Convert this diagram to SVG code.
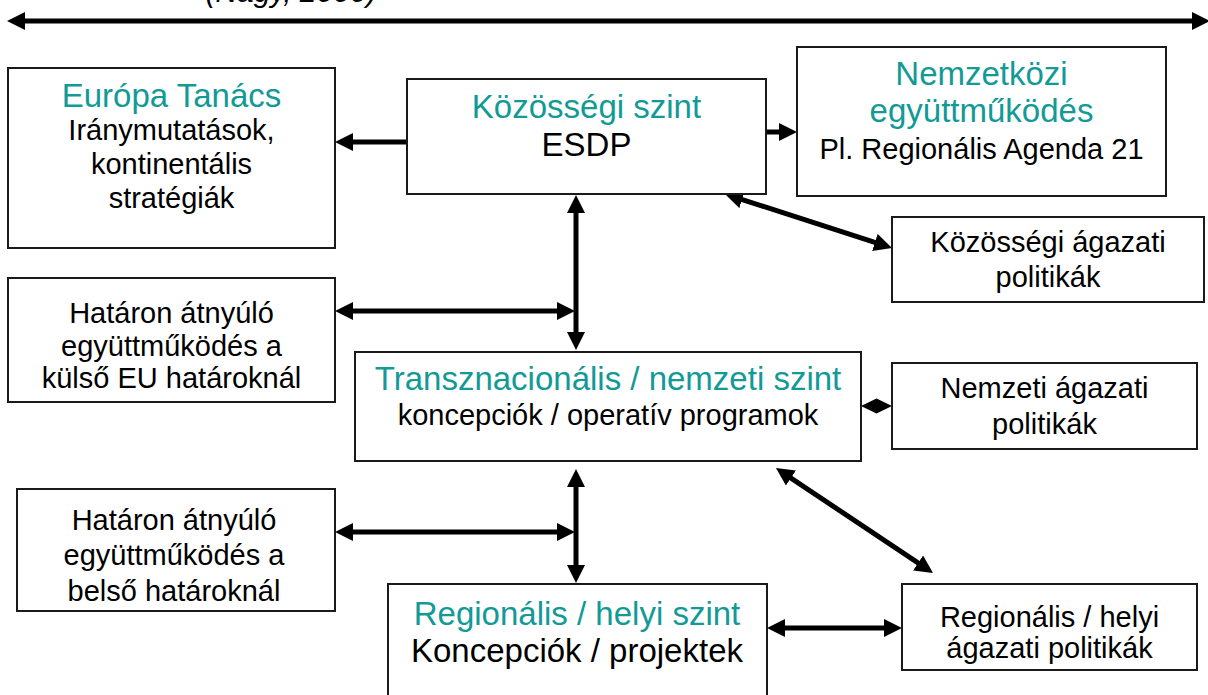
<svg xmlns="http://www.w3.org/2000/svg" width="1208" height="695" viewBox="0 0 1208 695">
  <defs>
    <style>
      .box { fill: #ffffff; stroke: #1a1a1a; stroke-width: 2; }
      .t { font-family: "Liberation Sans", Arial, sans-serif; text-anchor: middle; }
      .teal { fill: #119a96; font-size: 33px; }
      .blk { fill: #000000; font-size: 29px; }
      .big { fill: #000000; font-size: 33px; }
      .link { fill: none; stroke: #000000; stroke-width: 5; }
    </style>
    <marker id="ah" viewBox="0 0 18 18" markerWidth="18" markerHeight="18" markerUnits="userSpaceOnUse" refX="4" refY="9" orient="auto-start-reverse">
      <path d="M0,0 L18,9 L0,18 z" fill="#000000"/>
    </marker>
  </defs>

  <!-- timeline arrow across the top -->
  <g id="timeline">
    <text class="t" x="291" y="2" font-size="30" font-style="italic" fill="#000000">(Nagy, 2000)</text>
    <path class="link" d="M21,21 L1196,21" stroke-width="5.5" marker-start="url(#ah)" marker-end="url(#ah)"/>
  </g>

  <!-- connectors -->
  <g id="connectors">
    <path class="link" d="M407,142 L349,142" marker-end="url(#ah)"/>
    <path class="link" d="M766,132 L783,132" marker-end="url(#ah)"/>
    <path class="link" d="M738.3,198.3 L878.7,243.7" marker-start="url(#ah)" marker-end="url(#ah)"/>
    <path class="link" d="M576,209 L576,336" marker-start="url(#ah)" marker-end="url(#ah)"/>
    <path class="link" d="M349,311 L561,311" marker-start="url(#ah)" marker-end="url(#ah)"/>
    <path class="link" d="M576,483 L576,569" marker-start="url(#ah)" marker-end="url(#ah)"/>
    <path class="link" d="M349,532 L561,532" marker-start="url(#ah)" marker-end="url(#ah)"/>
    <path class="link" d="M787.6,475.8 L921.4,565.2" marker-start="url(#ah)" marker-end="url(#ah)"/>
    <path class="link" d="M781,628 L888,628" marker-start="url(#ah)" marker-end="url(#ah)"/>
    <path d="M861,406 L876.5,398.5 L892,406 L876.5,413.5 z" fill="#000000"/>
  </g>

  <g id="europa-tanacs">
    <rect class="box" x="8" y="68" width="327" height="180"/>
    <text class="t teal" x="171.5" y="107">Európa Tanács</text>
    <text class="t blk" x="171.5" y="140">Iránymutatások,</text>
    <text class="t blk" x="171.5" y="174">kontinentális</text>
    <text class="t blk" x="171.5" y="208">stratégiák</text>
  </g>

  <g id="kozossegi-szint">
    <rect class="box" x="407" y="79" width="359" height="115"/>
    <text class="t teal" x="586.5" y="118">Közösségi szint</text>
    <text class="t big" x="586.5" y="156">ESDP</text>
  </g>

  <g id="nemzetkozi">
    <rect class="box" x="797" y="47" width="369" height="149"/>
    <text class="t teal" x="981.5" y="85">Nemzetközi</text>
    <text class="t teal" x="981.5" y="122">együttműködés</text>
    <text class="t blk" x="981.5" y="159">Pl. Regionális Agenda 21</text>
  </g>

  <g id="kozossegi-agazati">
    <rect class="box" x="892" y="217" width="312" height="85"/>
    <text class="t blk" x="1048" y="252">Közösségi ágazati</text>
    <text class="t blk" x="1048" y="287">politikák</text>
  </g>

  <g id="hataron-kulso">
    <rect class="box" x="8" y="278" width="327" height="124"/>
    <text class="t blk" x="171.5" y="323">Határon átnyúló</text>
    <text class="t blk" x="171.5" y="356">együttműködés a</text>
    <text class="t blk" x="171.5" y="388">külső EU határoknál</text>
  </g>

  <g id="transznacionalis">
    <rect class="box" x="355" y="352" width="506" height="109"/>
    <text class="t teal" x="608" y="390">Transznacionális / nemzeti szint</text>
    <text class="t blk" x="608" y="425">koncepciók / operatív programok</text>
  </g>

  <g id="nemzeti-agazati">
    <rect class="box" x="892" y="363" width="305" height="86"/>
    <text class="t blk" x="1044.5" y="398">Nemzeti ágazati</text>
    <text class="t blk" x="1044.5" y="434">politikák</text>
  </g>

  <g id="hataron-belso">
    <rect class="box" x="17" y="489" width="318" height="122"/>
    <text class="t blk" x="174" y="530">Határon átnyúló</text>
    <text class="t blk" x="174" y="565">együttműködés a</text>
    <text class="t blk" x="174" y="601">belső határoknál</text>
  </g>

  <g id="regionalis-szint">
    <rect class="box" x="388" y="584" width="379" height="125"/>
    <text class="t teal" x="577" y="625">Regionális / helyi szint</text>
    <text class="t big" x="577" y="662" font-size="34">Koncepciók / projektek</text>
  </g>

  <g id="regionalis-agazati">
    <rect class="box" x="902" y="584" width="295" height="86"/>
    <text class="t blk" x="1049.5" y="627">Regionális / helyi</text>
    <text class="t blk" x="1049.5" y="658">ágazati politikák</text>
  </g>
</svg>
